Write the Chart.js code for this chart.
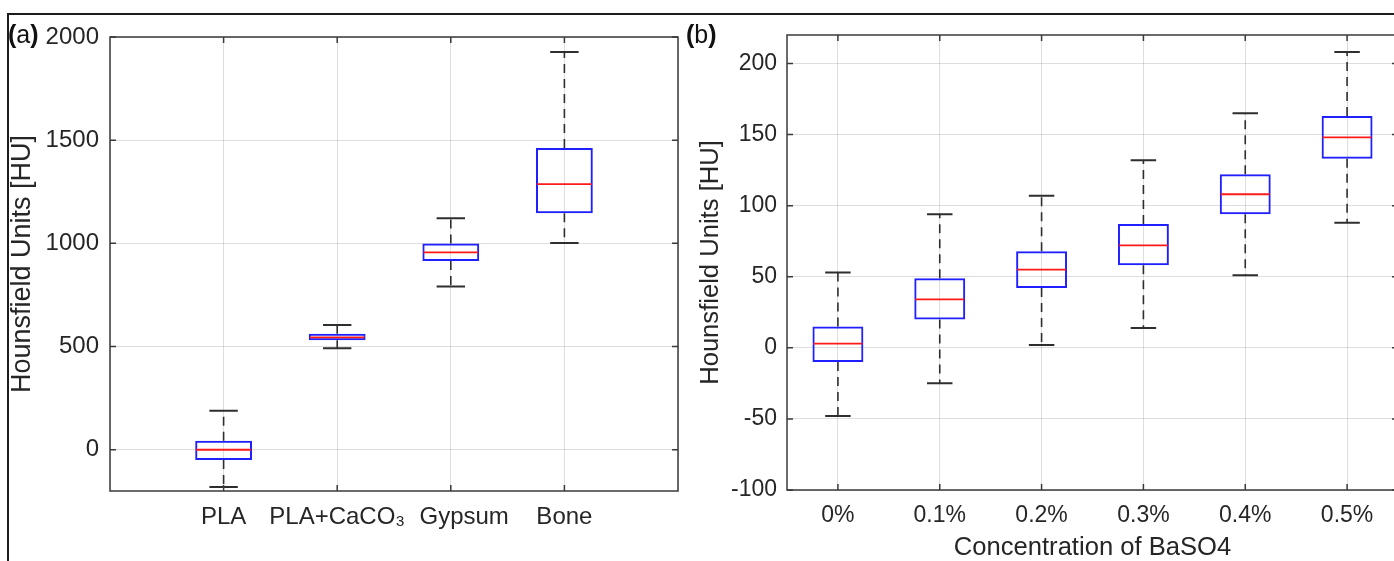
<!DOCTYPE html>
<html>
<head>
<meta charset="utf-8">
<script src="https://cdn.jsdelivr.net/npm/chart.js@4.4.1/dist/chart.umd.min.js"></script>
<style>
  html, body { margin: 0; padding: 0; background: #fff; overflow: hidden; }
  body { width: 1394px; height: 561px; position: relative; }
  .frame { position: absolute; left: 7px; top: 13px; right: -20px; bottom: -20px;
    border-top: 2px solid #1c1c1c; border-left: 2px solid #1c1c1c; }
  .tag { position: absolute; top: 20px; font: 25px "Liberation Sans", Arial, sans-serif; color: #111; }
  .tag b { font-weight: bold; }
  #wrapA { position: absolute; left: 0; top: 0; width: 690px; height: 561px; }
  #wrapB { position: absolute; left: 690px; top: 0; width: 720px; height: 561px; }
</style>
</head>
<body>
<div class="frame"></div>
<div id="wrapA"><canvas id="chartA"></canvas></div>
<div id="wrapB"><canvas id="chartB"></canvas></div>
<div class="tag" style="left:8px"><b>(</b>a<b>)</b></div>
<div class="tag" style="left:686px"><b>(</b>b<b>)</b></div>
<script>
// panel (a): materials
const groupsA = ['PLA', 'PLA+CaCO\u2083', 'Gypsum', 'Bone']
const lowA = [-181, 492, 791, 1002]
const q1A = [-50, 531, 914, 1146]
const medA = [0, 544, 956, 1287]
const q3A = [44, 562, 999, 1462]
const highA = [189, 604, 1122, 1927]
const yTicksA = [0, 500, 1000, 1500, 2000]

// panel (b): BaSO4 concentration
const concB = ['0%', '0.1%', '0.2%', '0.3%', '0.4%', '0.5%']
const lowB = [-48, -25, 2, 14, 51, 88]
const q1B = [-10, 20, 42, 58, 94, 133]
const medB = [3, 34, 55, 72, 108, 148]
const q3B = [15, 49, 68, 87, 122, 163]
const highB = [53, 94, 107, 132, 165, 208]
const yTicksB = [-100, -50, 0, 50, 100, 150, 200]

const FONT = '"Liberation Sans", Arial, "DejaVu Sans", sans-serif'
const TEXT = '#262626'
const GRID = 'rgba(0,0,0,0.13)'

// whiskers, caps and medians, placed with the chart's own scales
function boxParts(low, q1, med, q3, high, shift) {
  return {
    id: 'boxParts',
    afterDatasetsDraw(chart) {
      const ctx = chart.ctx
      const y = chart.scales.y
      const bars = chart.getDatasetMeta(0).data
      low.forEach((lo, i) => {
        const bar = bars[i + shift]
        const x = bar.x, w = bar.width
        ctx.save()
        ctx.strokeStyle = '#2e2e2e'
        ctx.lineWidth = 1.6
        ctx.setLineDash([9, 6])
        ctx.beginPath()
        ctx.moveTo(x, y.getPixelForValue(q3[i]))
        ctx.lineTo(x, y.getPixelForValue(high[i]))
        ctx.moveTo(x, y.getPixelForValue(q1[i]))
        ctx.lineTo(x, y.getPixelForValue(lo))
        ctx.stroke()
        ctx.setLineDash([])
        ctx.lineWidth = 2
        ctx.beginPath()
        ctx.moveTo(x - w / 4, y.getPixelForValue(high[i]))
        ctx.lineTo(x + w / 4, y.getPixelForValue(high[i]))
        ctx.moveTo(x - w / 4, y.getPixelForValue(lo))
        ctx.lineTo(x + w / 4, y.getPixelForValue(lo))
        ctx.stroke()
        ctx.strokeStyle = '#ff1a1a'
        ctx.lineWidth = 1.8
        ctx.beginPath()
        ctx.moveTo(x - w / 2 + 1, y.getPixelForValue(med[i]))
        ctx.lineTo(x + w / 2 - 1, y.getPixelForValue(med[i]))
        ctx.stroke()
        ctx.restore()
      })
    }
  }
}

// axes box with inward ticks on all four sides
const axisBox = {
  id: 'axisBox',
  afterDraw(chart) {
    const {ctx, chartArea: a, scales: {x, y}} = chart
    ctx.save()
    ctx.strokeStyle = '#3a3a3a'
    ctx.lineWidth = 1.5
    ctx.strokeRect(a.left, a.top, a.right - a.left, a.bottom - a.top)
    ctx.beginPath()
    y.ticks.forEach(t => {
      const py = y.getPixelForValue(t.value)
      ctx.moveTo(a.left, py); ctx.lineTo(a.left + 6, py)
      ctx.moveTo(a.right, py); ctx.lineTo(a.right - 6, py)
    })
    x.ticks.forEach((t, i) => {
      if (x.getLabelForValue(i) === '') return
      const px = x.getPixelForTick(i)
      ctx.moveTo(px, a.bottom); ctx.lineTo(px, a.bottom - 6)
      ctx.moveTo(px, a.top); ctx.lineTo(px, a.top + 6)
    })
    ctx.stroke()
    ctx.restore()
  }
}

function makeChart(id, cfg) {
  return new Chart(document.getElementById(id), {
    type: 'bar',
    data: {
      labels: cfg.labels,
      datasets: [{
        data: cfg.boxes,
        backgroundColor: 'rgba(0,0,0,0)',
        borderColor: '#1f1fff',
        borderWidth: 2,
        borderSkipped: false,
        categoryPercentage: 1,
        barPercentage: 0.5
      }]
    },
    options: {
      responsive: true,
      maintainAspectRatio: false,
      animation: false,
      events: [],
      layout: { padding: cfg.padding },
      plugins: { legend: { display: false }, tooltip: { enabled: false } },
      scales: {
        x: {
          offset: cfg.offset,
          grid: { offset: false, color: GRID, drawTicks: false },
          border: { display: false },
          ticks: { color: TEXT, font: { family: FONT, size: cfg.tickSize }, padding: 12, maxRotation: 0, autoSkip: false,
            callback: function (v) { return cfg.tickText(this.getLabelForValue(v)) } },
          title: cfg.xTitle ? { display: true, text: cfg.xTitle, color: TEXT,
            font: { family: FONT, size: 25.6, lineHeight: 1 }, padding: { top: 0, bottom: 0 } } : { display: false },
          afterFit: s => { s.height = cfg.xHeight }
        },
        y: {
          min: cfg.yMin,
          max: cfg.yMax,
          grid: { color: GRID, drawTicks: false },
          border: { display: false },
          afterBuildTicks: s => { s.ticks = cfg.yTicks.map(v => ({ value: v })) },
          ticks: { color: TEXT, font: { family: FONT, size: cfg.tickSize }, padding: cfg.yPad,
            callback: v => String(v) },
          title: { display: true, text: 'Hounsfield Units [HU]', color: TEXT,
            font: { family: FONT, size: cfg.yTitleSize, lineHeight: 1 }, padding: { top: cfg.yTitlePad, bottom: 0 } },
          afterFit: s => { s.width = cfg.yWidth }
        }
      }
    },
    plugins: [cfg.parts, axisBox]
  })
}

makeChart('chartA', {
  labels: ['', ...groupsA, ''],
  boxes: [null, ...q1A.map((v, i) => [v, q3A[i]]), null],
  offset: false,
  padding: { left: 0, top: 37, right: 11, bottom: 0 },
  tickSize: 24,
  // the original nudges "Gypsum" a little to the right of its tick
  tickText: s => (s === 'Gypsum' ? '    ' + s : s),
  yMin: -200, yMax: 2000, yTicks: yTicksA,
  yPad: 11, yWidth: 110, yTitleSize: 27, yTitlePad: 9.5,
  xHeight: 70,
  parts: boxParts(lowA, q1A, medA, q3A, highA, 1)
})

makeChart('chartB', {
  labels: concB,
  boxes: q1B.map((v, i) => [v, q3B[i]]),
  offset: true,
  padding: { left: 0, top: 35, right: 12, bottom: 0 },
  tickSize: 23,
  tickText: s => s,
  yMin: -100, yMax: 220, yTicks: yTicksB,
  yPad: 10, yWidth: 97, yTitleSize: 25.6, yTitlePad: 8,
  xHeight: 71,
  xTitle: 'Concentration of BaSO4',
  parts: boxParts(lowB, q1B, medB, q3B, highB, 0)
})
</script>
</body>
</html>
